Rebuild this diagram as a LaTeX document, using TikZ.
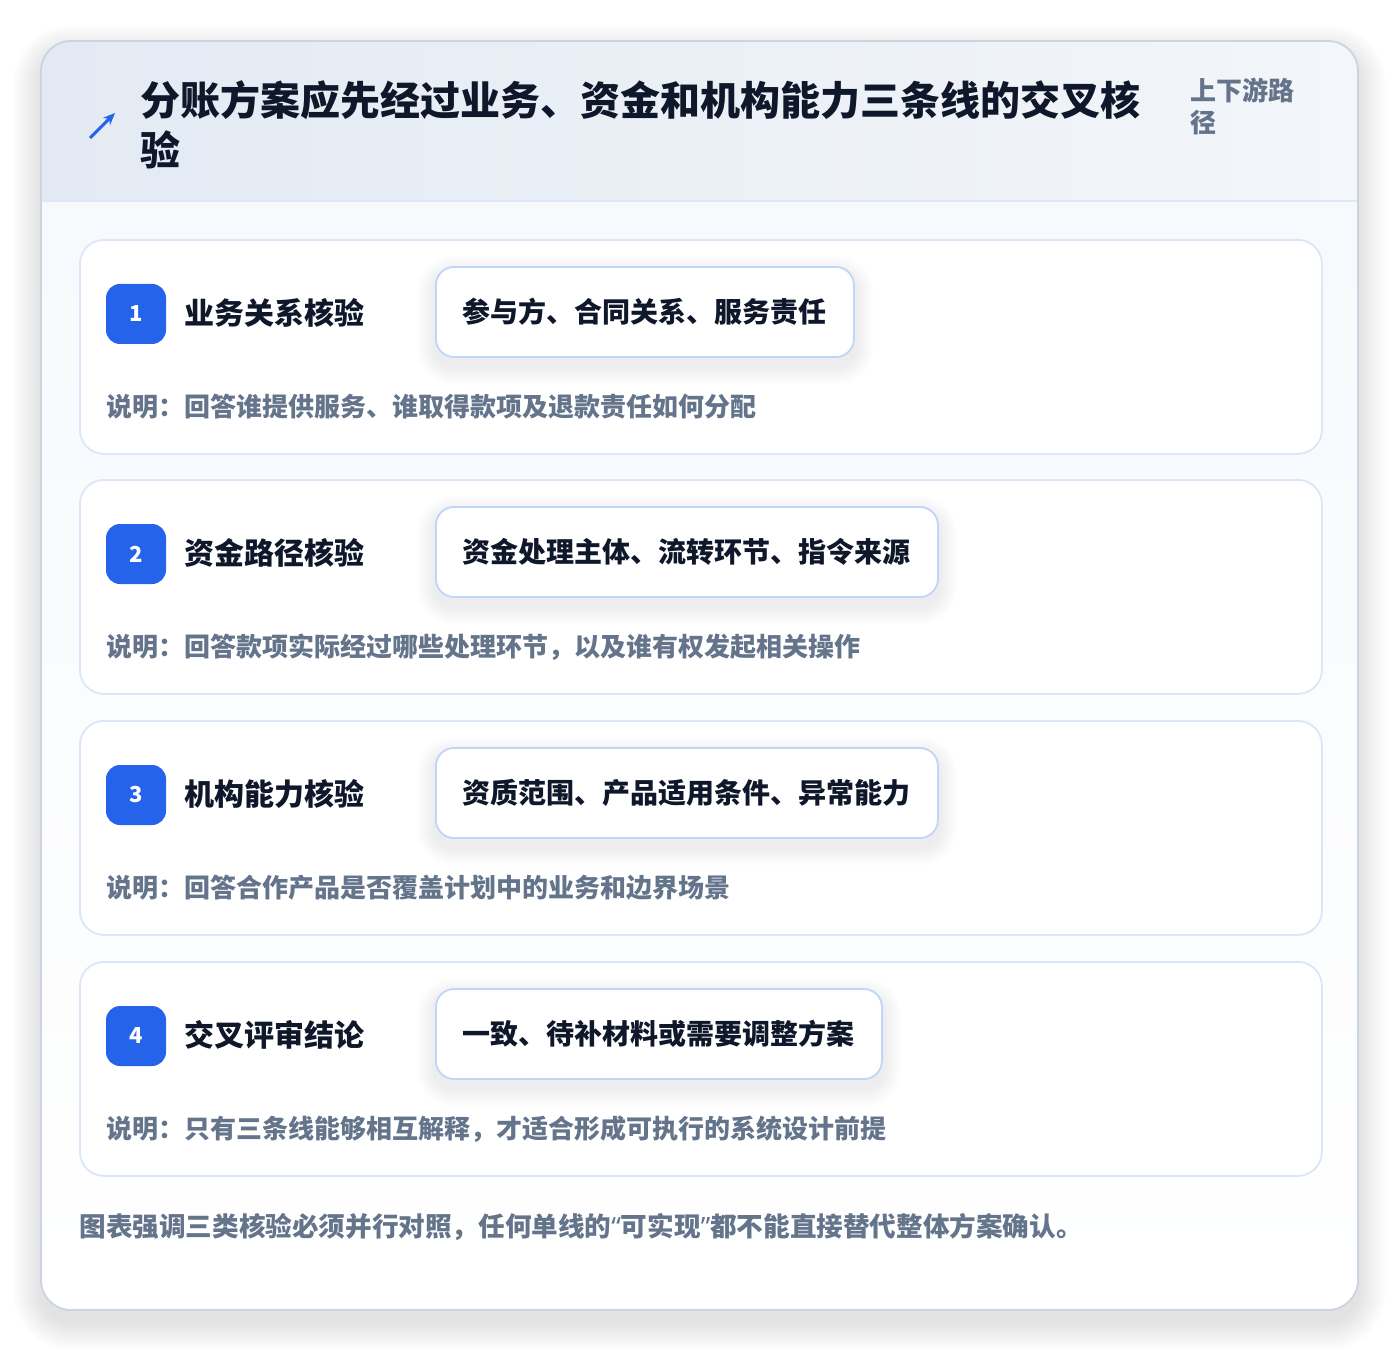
\documentclass[tikz,border=0pt]{standalone}
\usepackage{fontspec}
\setmainfont{Noto Sans CJK SC}
\newfontfamily\latinq{Noto Sans}
\usetikzlibrary{arrows.meta}
\pgfdeclarelayer{bg}
\pgfdeclarelayer{mid}
\pgfsetlayers{bg,mid,main}
\definecolor{ink}{HTML}{0F172A}
\definecolor{muted}{HTML}{64748B}
\definecolor{accent}{HTML}{2563EB}
\definecolor{outerb}{HTML}{CBD5E1}
\definecolor{cardb}{HTML}{DBE7F8}
\definecolor{pillb}{HTML}{BFD6F6}
\definecolor{hdrL}{HTML}{E3EAF3}
\definecolor{hdrR}{HTML}{F3F6FA}
\definecolor{hdrline}{HTML}{DCE8F7}
\definecolor{bodyT}{HTML}{F7F9FC}
\definecolor{shcol}{HTML}{334155}
\begin{document}
\begin{tikzpicture}[x=0.5pt,y=-0.5pt,
  card/.style={draw=cardb, line width=0.9pt, fill=white, rounded corners=12pt, anchor=north west, minimum width=621pt, minimum height=107pt, inner sep=0pt},
  pill/.style={draw=pillb, line width=0.9pt, fill=white, rounded corners=9pt, anchor=west, minimum height=45pt, inner xsep=13.5pt, font=\fontsize{14pt}{16pt}\selectfont\bfseries, text=ink},
  badge/.style={fill=accent, rounded corners=7pt, minimum size=30pt, inner sep=0pt, text=white, font=\fontsize{11pt}{13pt}\selectfont\bfseries},
  lbl/.style={anchor=west, inner sep=0pt, text=ink, font=\fontsize{15pt}{17pt}\selectfont\bfseries},
  desc/.style={anchor=west, inner sep=0pt, text=muted, font=\fontsize{13pt}{15pt}\selectfont\bfseries},
  ttl/.style={anchor=west, inner sep=0pt, text=ink, font=\fontsize{20pt}{24pt}\selectfont\bfseries},
  side/.style={anchor=west, inner sep=0pt, text=muted, font=\fontsize{13pt}{15pt}\selectfont\bfseries}
]
\useasboundingbox (0,0) rectangle (1400,1352);
\begin{pgfonlayer}{bg}
\fill[white] (0,0) rectangle (1400,1352);
% outer card shadow
\foreach \k in {1,...,14}{
  \fill[shcol, opacity=0.007, rounded corners={15pt+\k pt}]
    ([xshift=-\k pt, yshift={-6pt-\k pt}]41,1310) rectangle ([xshift=\k pt, yshift={-6pt+\k pt}]1358,41);
}
\fill[white, rounded corners=15pt] (41,41) rectangle (1358,1310);
\begin{scope}
\clip[rounded corners=15pt] (41,41) rectangle (1358,1310);
\shade[left color=hdrL, right color=hdrR] (41,41) rectangle (1358,201);
\shade[top color=bodyT, bottom color=white] (41,201) rectangle (1358,1310);
\end{scope}
\draw[hdrline, line width=1pt] (41,201) -- (1358,201);
\draw[outerb, line width=0.9pt, rounded corners=15pt] (41,41) rectangle (1358,1310);
\end{pgfonlayer}
% header
\coordinate (a0) at (90,138);
\coordinate (a1) at (115,113);
\draw[accent, line width=1.5pt, -{Stealth[length=6pt,width=5pt]}] (a0) -- (a1);
\node[ttl] (t1) at (140,100) {分账方案应先经过业务、资金和机构能力三条线的交叉核};
\node[ttl] (t2) at (140,150) {验};
\node[side] (h1) at (1190,90) {上下游路};
\node[side] (h2) at (1190,123) {径};
% cards
\foreach \t/\n/\l/\p/\d in {
  239/1/业务关系核验/参与方、合同关系、服务责任/说明：回答谁提供服务、谁取得款项及退款责任如何分配,
  479/2/资金路径核验/资金处理主体、流转环节、指令来源/说明：回答款项实际经过哪些处理环节，以及谁有权发起相关操作,
  720/3/机构能力核验/资质范围、产品适用条件、异常能力/说明：回答合作产品是否覆盖计划中的业务和边界场景,
  961/4/交叉评审结论/一致、待补材料或需要调整方案/说明：只有三条线能够相互解释，才适合形成可执行的系统设计前提}{
  \begin{pgfonlayer}{bg}
  \node[card] (card\n) at (79,\t) {};
  \end{pgfonlayer}
  \node[badge] (badge\n) at (136,\t+75) {\n};
  \node[lbl] (lbl\n) at (184,\t+74) {\l};
  \node[pill] (pill\n) at (435,\t+73) {\p};
  \begin{pgfonlayer}{mid}
  \foreach \k in {1,...,9}{
    \fill[shcol, opacity=0.009, rounded corners={9pt+\k pt}]
      ([xshift=-\k pt, yshift={-4pt-\k pt}]pill\n.south west) rectangle ([xshift=\k pt, yshift={-4pt+\k pt}]pill\n.north east);
  }
  \end{pgfonlayer}
  \node[desc] (desc\n) at (106,\t+168) {\d};
}
\node[desc, font=\fontsize{13.3pt}{15pt}\selectfont\bfseries] (foot) at (79,1227) {图表强调三类核验必须并行对照，任何单线的{\latinq “}可实现{\latinq ”}都不能直接替代整体方案确认。};
\end{tikzpicture}
\end{document}
